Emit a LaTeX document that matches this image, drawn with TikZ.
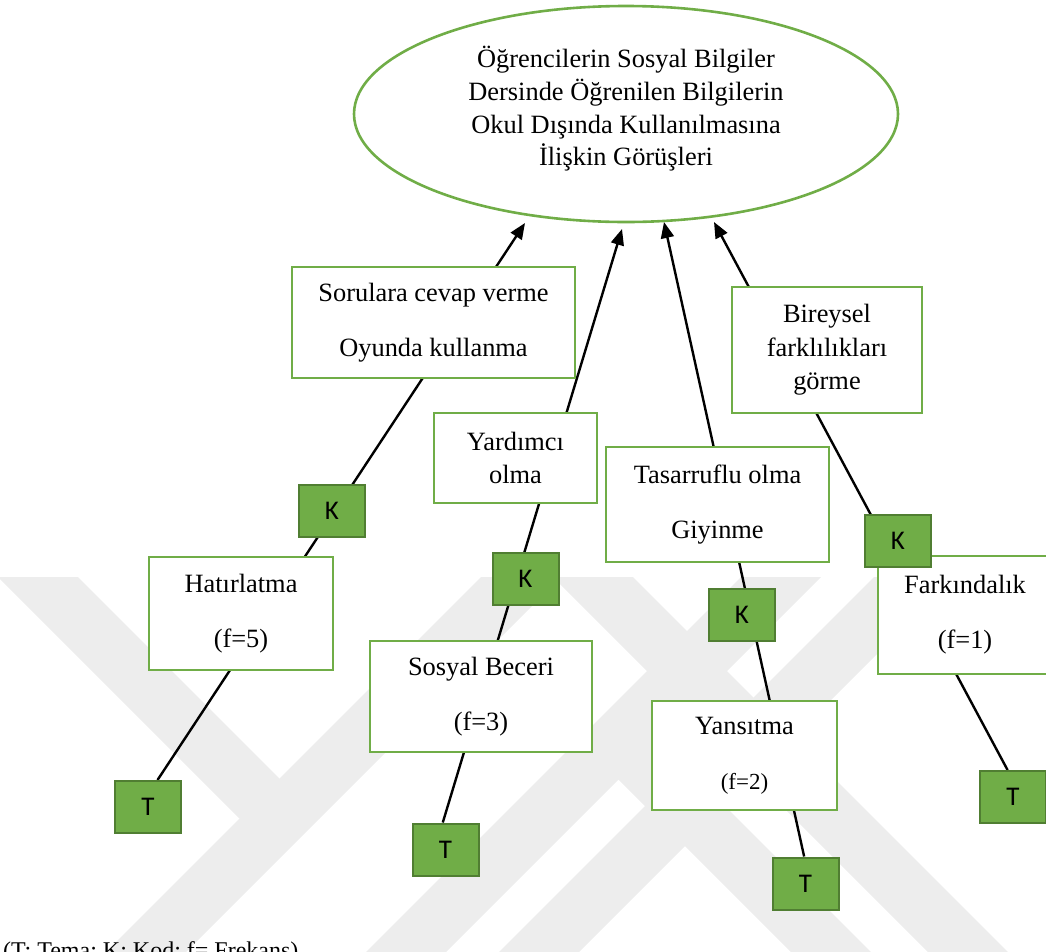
\documentclass[tikz,border=0pt]{standalone}
\usepackage{fontspec}
\setmainfont{Liberation Serif}
\newfontfamily\tagfont{Carlito}
\usetikzlibrary{shapes.geometric,arrows.meta,calc}
\definecolor{boxgreen}{HTML}{70AD47}
\definecolor{tagedge}{HTML}{507E32}
\definecolor{markgray}{HTML}{EDEDED}
\pgfdeclarelayer{mark}
\pgfdeclarelayer{links}
\pgfsetlayers{mark,links,main}

\begin{document}
\begin{tikzpicture}[x=1pt,y=-1pt,
  oval/.style={draw=boxgreen, line width=2.6pt, ellipse, inner sep=0pt,
    minimum width=544pt, minimum height=216pt},
  heading/.style={align=center, inner sep=0pt, font=\fontsize{26.4}{32.7}\selectfont},
  box/.style={draw=boxgreen, line width=2.6pt, fill=white, inner sep=0pt, align=center},
  wide/.style={font=\fontsize{26.4}{55}\selectfont},
  tight/.style={font=\fontsize{26.4}{33.5}\selectfont},
  tag/.style={draw=tagedge, line width=2pt, fill=boxgreen, inner sep=0pt,
    minimum width=66pt, minimum height=52pt, font=\tagfont\fontsize{27}{27}\selectfont},
  link/.style={line width=2.4pt, black},
  up/.style={link, -{Triangle[length=16pt, width=13pt]}},
  band/.style={fill=markgray, draw=none}
]
\clip (0,0) rectangle (1046,951);
\useasboundingbox (0,0) rectangle (1046,951);

% faint page mark: diagonal bands in the lower half
\begin{pgfonlayer}{mark}
\fill[band] (98,960) -- (178,960) -- (561,577) -- (481,577) -- cycle;
\fill[band] (-2,577) -- (78,577) -- (319.5,818.5) -- (239.5,818.5) -- cycle;
\fill[band] (358,960) -- (438,960) -- (821,577) -- (741,577) -- cycle;
\fill[band] (578.5,739.5) -- (658.5,739.5) -- (879,960) -- (799,960) -- cycle;
\fill[band] (491,960) -- (571,960) -- (954,577) -- (874,577) -- cycle;
\fill[band] (553,577) -- (633,577) -- (1016,960) -- (936,960) -- cycle;
\end{pgfonlayer}

% central theme
\node[oval] (ell) at (626,114) {};
\node[heading] (title) at (626,109) {Öğrencilerin Sosyal Bilgiler\\Dersinde Öğrenilen Bilgilerin\\Okul Dışında Kullanılmasına\\İlişkin Görüşleri};

% arrow tips under the ellipse
\coordinate (tip1) at (525,223);
\coordinate (tip2) at (622,229);
\coordinate (tip3) at (664,222);
\coordinate (tip4) at (714,222);

% branch 1
\node[box, wide, minimum width=283pt, minimum height=111pt] (sor) at (433.5,322.5) {Sorulara cevap verme\\Oyunda kullanma};
\node[tag] (k1) at (332,510.5) {K};
\node[box, wide, minimum width=184pt, minimum height=113pt] (hat) at (241,613.5) {Hatırlatma\\(f=5)};
\node[tag] (t1) at (148,807) {T};

% branch 2
\node[box, tight, minimum width=163pt, minimum height=90pt] (yar) at (515.5,458) {Yardımcı\\olma};
\node[tag] (k2) at (525.5,578.5) {K};
\node[box, wide, minimum width=222pt, minimum height=111pt] (sos) at (481,696.5) {Sosyal Beceri\\(f=3)};
\node[tag] (t2) at (445.5,849.5) {T};

% branch 3
\node[box, wide, minimum width=223pt, minimum height=115pt] (tas) at (717.5,504.5) {Tasarruflu olma\\Giyinme};
\node[tag] (k3) at (742,615) {K};
\node[box, wide, minimum width=185pt, minimum height=109pt] (yan) at (744.5,755.5) {Yansıtma\\{\fontsize{23}{23}\selectfont (f=2)}};
\node[tag] (t3) at (805.5,883.5) {T};

% branch 4
\node[box, tight, minimum width=190pt, minimum height=126pt] (bir) at (827,350) {Bireysel\\farklılıkları\\görme};
\node[box, wide, minimum width=174pt, minimum height=118pt] (far) at (965,615) {Farkındalık\\(f=1)};
\node[tag] (k4) at (898,540.5) {K};
\node[tag] (t4) at (1013,797) {T};

% legend
\node[anchor=base west, inner sep=0pt, font=\fontsize{24}{28}\selectfont] (legend) at (3,958) {(T: Tema; K: Kod; f= Frekans)};

% connectors, running behind the boxes
\begin{pgfonlayer}{links}
\draw[up] ($(t1.north west)!0.64!(t1.north east)$) -- (tip1);
\draw[up] ($(t2.north west)!0.46!(t2.north east)$) -- (tip2);
\draw[up] ($(t3.north west)!0.48!(t3.north east)$) -- (tip3);
\draw[up] ($(t4.north west)!0.42!(t4.north east)$) -- (tip4);
\end{pgfonlayer}
\end{tikzpicture}
\end{document}
